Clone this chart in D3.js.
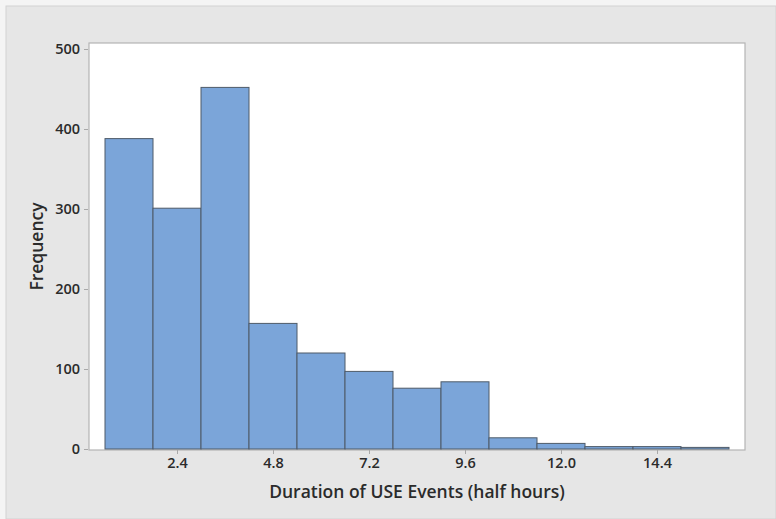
<!DOCTYPE html>
<html>
<head>
<meta charset="utf-8">
<script src="https://cdn.jsdelivr.net/npm/d3@7"></script>
<style>
  body { margin: 0; background: #f4f4f4; }
  svg { display: block; }
  text { font-family: "Open Sans", sans-serif; fill: #2b2b2b; }
</style>
</head>
<body>
<div id="chart"></div>
<script>
// histogram bins (midpoints in half hours) and counts
var binMids = [1.2, 2.4, 3.6, 4.8, 6.0, 7.2, 8.4, 9.6, 10.8, 12.0, 13.2, 14.4, 15.6];
var counts = [388, 301, 452, 157, 120, 97, 76, 84, 14, 7, 3, 3, 2];
var binWidth = 1.2;
var xTicks = [2.4, 4.8, 7.2, 9.6, 12.0, 14.4];
var yTicks = [0, 100, 200, 300, 400, 500];

const W = 776, H = 519;
const FRAME = { LEFT: 89, TOP: 43, RIGHT: 745, BOTTOM: 450 };

var svg = d3.select('#chart').append('svg')
	.attr('width', W)
	.attr('height', H);

svg.append('rect')
	.attr('x', 6).attr('y', 6)
	.attr('width', W - 6).attr('height', H - 6)
	.attr('fill', '#e6e6e6')
	.attr('stroke', '#d2d2d2');

var x = d3.scaleLinear().domain([0.2, 16.6]).range([FRAME.LEFT, FRAME.RIGHT]);
var y = d3.scaleLinear().domain([0, 500]).range([449, 49]);

svg.append('rect')
	.attr('x', FRAME.LEFT).attr('y', FRAME.TOP)
	.attr('width', FRAME.RIGHT - FRAME.LEFT)
	.attr('height', FRAME.BOTTOM - FRAME.TOP)
	.attr('fill', '#ffffff')
	.attr('stroke', '#b4b4b4')
	.attr('stroke-width', 1.2);

svg.selectAll('.bar').data(counts).enter()
	.append('rect')
	.attr('class', 'bar')
	.attr('x', function (d, i) { return x(binMids[i] - binWidth / 2); })
	.attr('width', x(binWidth) - x(0))
	.attr('y', function (d) { return y(d); })
	.attr('height', function (d) { return y(0) - y(d); })
	.attr('fill', '#7ba5d9')
	.attr('stroke', '#4f5b69')
	.attr('stroke-width', 1);

var xAxis = d3.axisBottom(x).tickValues(xTicks).tickFormat(d3.format('.1f')).tickSize(4).tickPadding(4);
var yAxis = d3.axisLeft(y).tickValues(yTicks).tickSize(4).tickPadding(4);

var gx = svg.append('g')
	.attr('transform', 'translate(0,' + FRAME.BOTTOM + ')')
	.call(xAxis);
var gy = svg.append('g')
	.attr('transform', 'translate(' + (FRAME.LEFT - 1) + ',0)')
	.call(yAxis);

[gx, gy].forEach(function (g) {
	g.select('.domain').remove();
	g.selectAll('line').attr('stroke', '#a8a8a8');
	g.selectAll('text')
		.style('font-size', '14.5px')
		.style('font-weight', 600)
		.attr('fill', '#2b2b2b');
});

svg.append('text')
	.attr('x', (FRAME.LEFT + FRAME.RIGHT) / 2)
	.attr('y', 498)
	.attr('text-anchor', 'middle')
	.style('font-size', '17.5px')
	.style('font-weight', 600)
	.text('Duration of USE Events (half hours)');

svg.append('text')
	.attr('transform', 'translate(43,' + ((FRAME.TOP + FRAME.BOTTOM) / 2) + ') rotate(-90)')
	.attr('text-anchor', 'middle')
	.style('font-size', '17.5px')
	.style('font-weight', 600)
	.text('Frequency');
</script>
</body>
</html>
